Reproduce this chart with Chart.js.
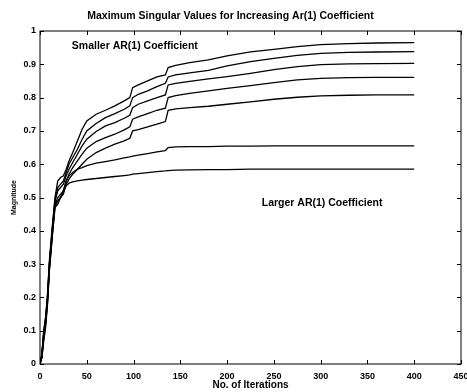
<!DOCTYPE html>
<html>
<head>
<meta charset="utf-8">
<script src="https://cdn.jsdelivr.net/npm/chart.js@4"></script>
<style>
  html, body { margin: 0; padding: 0; background: #fff; }
  #wrap { width: 467px; height: 392px; }
</style>
</head>
<body>
<div id="wrap"><canvas id="c" width="467" height="392"></canvas></div>
<script>
// ---- data ----
const iterations = [0, 2, 4, 6, 8, 10, 13, 16, 19, 22, 25, 28, 31, 35, 40, 45, 50, 60, 70, 80, 90, 96, 99, 105, 115, 125, 134, 137, 145, 160, 180, 200, 225, 250, 275, 300, 330, 360, 400];

const curveA = [0, 0.03, 0.10, 0.14, 0.21, 0.31, 0.41, 0.50, 0.55, 0.56, 0.565, 0.585, 0.61, 0.635, 0.67, 0.705, 0.73, 0.75, 0.762, 0.775, 0.79, 0.80, 0.83, 0.838, 0.85, 0.862, 0.868, 0.89, 0.897, 0.905, 0.913, 0.925, 0.937, 0.945, 0.953, 0.959, 0.962, 0.964, 0.965];
const curveB = [0, 0.03, 0.10, 0.14, 0.20, 0.30, 0.40, 0.49, 0.53, 0.54, 0.55, 0.575, 0.60, 0.62, 0.645, 0.675, 0.70, 0.722, 0.74, 0.752, 0.765, 0.775, 0.80, 0.81, 0.82, 0.833, 0.843, 0.862, 0.868, 0.874, 0.882, 0.895, 0.908, 0.918, 0.927, 0.933, 0.936, 0.937, 0.938];
const curveC = [0, 0.03, 0.09, 0.13, 0.20, 0.30, 0.40, 0.49, 0.52, 0.53, 0.54, 0.565, 0.585, 0.605, 0.63, 0.655, 0.675, 0.698, 0.715, 0.725, 0.738, 0.747, 0.77, 0.78, 0.79, 0.80, 0.808, 0.838, 0.843, 0.849, 0.856, 0.863, 0.873, 0.884, 0.893, 0.899, 0.901, 0.902, 0.903];
const curveD = [0, 0.02, 0.09, 0.13, 0.19, 0.29, 0.39, 0.48, 0.50, 0.51, 0.52, 0.55, 0.57, 0.59, 0.61, 0.63, 0.648, 0.668, 0.68, 0.69, 0.703, 0.712, 0.735, 0.742, 0.752, 0.762, 0.768, 0.80, 0.806, 0.813, 0.82, 0.828, 0.836, 0.845, 0.853, 0.858, 0.86, 0.861, 0.861];
const curveE = [0, 0.02, 0.08, 0.12, 0.19, 0.29, 0.39, 0.48, 0.49, 0.50, 0.51, 0.54, 0.555, 0.57, 0.585, 0.60, 0.615, 0.635, 0.648, 0.66, 0.67, 0.678, 0.70, 0.704, 0.712, 0.72, 0.728, 0.762, 0.766, 0.77, 0.774, 0.78, 0.787, 0.795, 0.801, 0.805, 0.807, 0.808, 0.808];
const curveF = [0, 0.02, 0.08, 0.12, 0.18, 0.28, 0.38, 0.47, 0.49, 0.50, 0.52, 0.55, 0.565, 0.575, 0.585, 0.59, 0.596, 0.603, 0.608, 0.613, 0.619, 0.622, 0.624, 0.627, 0.632, 0.637, 0.641, 0.65, 0.652, 0.653, 0.653, 0.654, 0.654, 0.655, 0.655, 0.655, 0.655, 0.655, 0.655];
const curveG = [0, 0.02, 0.07, 0.11, 0.18, 0.28, 0.38, 0.47, 0.48, 0.50, 0.52, 0.535, 0.543, 0.547, 0.55, 0.552, 0.554, 0.557, 0.56, 0.563, 0.566, 0.568, 0.57, 0.572, 0.575, 0.578, 0.58, 0.581, 0.582, 0.583, 0.584, 0.584, 0.585, 0.585, 0.585, 0.585, 0.585, 0.585, 0.585];

const seriesList = [curveA, curveB, curveC, curveD, curveE, curveF, curveG];

const xTickLabels = ['0', '50', '100', '150', '200', '250', '300', '350', '400', '450'];
const yTickLabels = ['0', '0.1', '0.2', '0.3', '0.4', '0.5', '0.6', '0.7', '0.8', '0.9', '1'];

const chartTitle = 'Maximum Singular Values for Increasing Ar(1) Coefficient';
const xTitle = 'No. of Iterations';
const yTitle = 'Magnitude';
const notes = [
  { text: 'Smaller AR(1) Coefficient', x: 34, y: 0.955 },
  { text: 'Larger AR(1) Coefficient', x: 237, y: 0.483 }
];

// ---- chart ----
const FONT = "'Liberation Sans', Arial, Helvetica, sans-serif";

const framePlugin = {
  id: 'frame',
  afterDatasetsDraw(chart) {
    const { ctx, chartArea: a, scales: { x, y } } = chart;
    ctx.save();
    ctx.strokeStyle = '#000';
    ctx.lineWidth = 1;
    ctx.strokeRect(a.left, a.top, a.right - a.left, a.bottom - a.top);
    const L = 4;
    ctx.beginPath();
    x.ticks.forEach(t => {
      const px = Math.round(x.getPixelForValue(t.value)) + 0.5;
      ctx.moveTo(px, a.bottom); ctx.lineTo(px, a.bottom - L);
      ctx.moveTo(px, a.top); ctx.lineTo(px, a.top + L);
    });
    y.ticks.forEach(t => {
      const py = Math.round(y.getPixelForValue(t.value)) + 0.5;
      ctx.moveTo(a.left, py); ctx.lineTo(a.left + L, py);
      ctx.moveTo(a.right, py); ctx.lineTo(a.right - L, py);
    });
    ctx.stroke();
    // annotations
    ctx.fillStyle = '#000';
    ctx.font = 'bold 10.5px ' + FONT;
    ctx.textBaseline = 'middle';
    ctx.textAlign = 'left';
    notes.forEach(n => {
      ctx.fillText(n.text, x.getPixelForValue(n.x), y.getPixelForValue(n.y));
    });
    ctx.restore();
  }
};

const datasets = seriesList.map(vals => ({
  data: iterations.map((it, i) => ({ x: it, y: vals[i] })),
  borderColor: '#000',
  borderWidth: 1.3,
  pointRadius: 0,
  tension: 0,
  fill: false
}));

new Chart(document.getElementById('c'), {
  type: 'line',
  data: { datasets },
  options: {
    responsive: false,
    animation: false,
    layout: { padding: { top: 0, right: 6, left: 0, bottom: 0 } },
    plugins: {
      legend: { display: false },
      tooltip: { enabled: false },
      title: {
        display: true,
        text: chartTitle,
        color: '#000',
        font: { family: FONT, size: 10.5, weight: 'bold' },
        padding: { top: 9.7, bottom: 8.7 }
      }
    },
    scales: {
      x: {
        type: 'linear',
        min: 0, max: 450,
        grid: { display: false, drawTicks: false },
        border: { display: false },
        ticks: {
          stepSize: 50,
          padding: 7,
          color: '#000',
          maxRotation: 0,
          autoSkip: false,
          font: { family: FONT, size: 9, weight: 'bold' },
          callback: (v, i) => xTickLabels[i]
        },
        title: {
          display: true,
          text: xTitle,
          color: '#000',
          font: { family: FONT, size: 10, weight: 'bold' },
          padding: { top: 0, bottom: 1 }
        },
        afterFit(s) { s.height = 28; s.paddingLeft = 0; s.paddingRight = 0; }
      },
      y: {
        type: 'linear',
        min: 0, max: 1,
        grid: { display: false, drawTicks: false },
        border: { display: false },
        ticks: {
          stepSize: 0.1,
          padding: 4,
          color: '#000',
          autoSkip: false,
          font: { family: FONT, size: 9, weight: 'bold' },
          callback: (v, i) => yTickLabels[i]
        },
        title: {
          display: true,
          text: yTitle,
          color: '#000',
          font: { family: FONT, size: 7, weight: 'bold' },
          padding: { top: 10, bottom: 0 }
        },
        afterFit(s) { s.width = 40; s.paddingTop = 0; s.paddingBottom = 0; }
      }
    }
  },
  plugins: [framePlugin]
});
</script>
</body>
</html>
